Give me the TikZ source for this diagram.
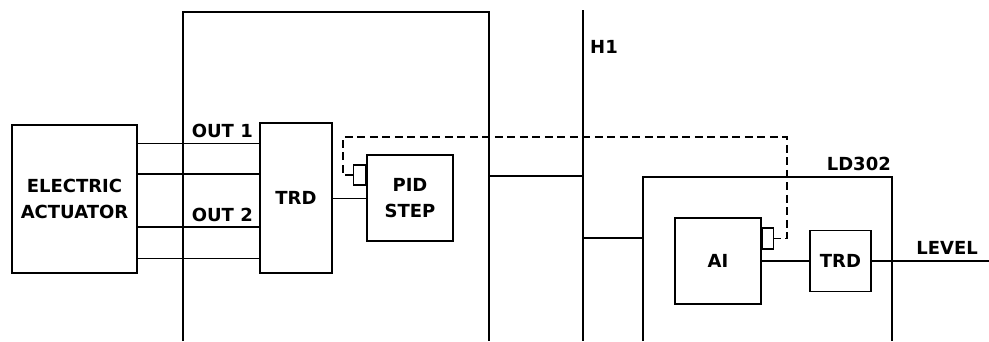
\documentclass[tikz,border=0pt]{standalone}
\usepackage{fontspec}
\setmainfont{DejaVu Sans}
\usepackage{tikz}
\usetikzlibrary{positioning}

\tikzset{
  blk/.style={draw,line width=1.5pt,inner sep=0pt,align=center,
    font=\bfseries\fontsize{18}{26}\selectfont},
  port/.style={draw,line width=1.1pt,inner sep=0pt},
  lbl/.style={inner sep=0pt,font=\bfseries\fontsize{18}{21}\selectfont},
  wire/.style={line width=.9pt},
  bus/.style={line width=2pt},
  link/.style={line width=1.8pt,dash pattern=on 8pt off 4.5pt}
}

\begin{document}
\begin{tikzpicture}[x=1pt,y=-1pt]
\useasboundingbox (0,0) rectangle (989,341);
% field device and fieldbus
\draw[line width=1.6pt] (183,341) |- (489,12) -- (489,341);
\draw[bus] (583,10) -- (583,341);
\draw[line width=1.5pt] (643,341) |- (892,177) -- (892,341);
\node[lbl,anchor=west] (h1) at (590,47) {H1};
\node[lbl,anchor=east] (ld) at (891,164) {LD302};

% blocks
\node[blk,minimum width=125pt,minimum height=148pt] (act) at (74.5,199) {ELECTRIC\\ACTUATOR};
\node[blk,minimum width=72pt,minimum height=150pt] (trd) at (296,198) {TRD};
\node[blk,minimum width=86pt,minimum height=86pt] (pid) at (410,198) {PID\\STEP};
\node[port,minimum width=12pt,minimum height=20pt,left=0pt of pid.west,yshift=23pt] (pport) {};
\node[blk,minimum width=86pt,minimum height=86pt] (ai) at (718,261) {AI};
\node[port,minimum width=11pt,minimum height=21pt,right=0pt of ai.east,yshift=22.5pt] (aport) {};
\node[blk,minimum width=61pt,minimum height=61pt] (trdb) at (840.5,261) {TRD};

% outputs
\node[lbl,anchor=east] (out1) at (253,131) {OUT 1};
\node[lbl,anchor=east] (out2) at (253,215) {OUT 2};
\foreach \y/\w in {143/wire,174/bus,227/bus,258/wire}
  \draw[\w] (act.east |- 0,\y) -- (trd.west |- 0,\y);

% connections
\draw[wire] (trd) -- (pid);
\coordinate (boxr) at (489,176);
\coordinate (busa) at (583,176);
\coordinate (busb) at (583,238);
\coordinate (ldl) at (643,238);
\coordinate (lvl) at (989,261);
\draw[bus] (boxr) -- (busa);
\draw[bus] (busb) -- (ldl);
\draw[bus] (ai) -- (trdb);
\draw[bus] (trdb) -- (lvl);
\node[lbl,anchor=east] (level) at (978,248) {LEVEL};

% cascade link
\coordinate (turn) at (787,137);
\draw[link] (pport.west) -| (343,137) -- (turn) |- (aport.east);
\end{tikzpicture}
\end{document}
